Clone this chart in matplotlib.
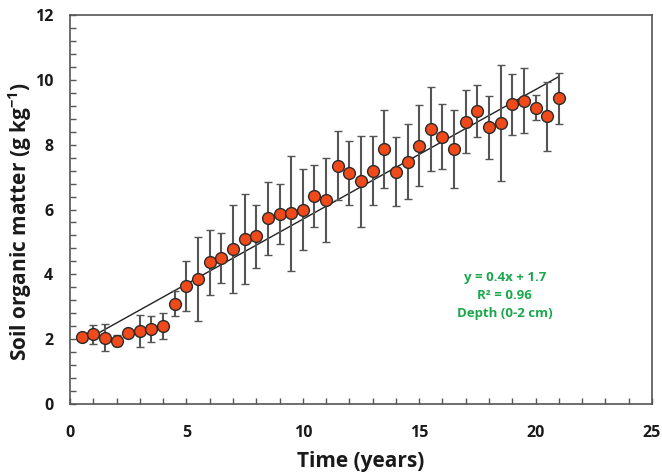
import matplotlib
matplotlib.use('Agg')
import matplotlib.pyplot as plt
import numpy as np
from matplotlib.ticker import MultipleLocator

# Soil organic matter over time, depth 0-2 cm
years = [0.5, 1, 1.5, 2, 2.5, 3, 3.5, 4, 4.5, 5, 5.5, 6, 6.5, 7, 7.5, 8, 8.5, 9, 9.5, 10, 10.5,
         11, 11.5, 12, 12.5, 13, 13.5, 14, 14.5, 15, 15.5, 16, 16.5, 17, 17.5, 18, 18.5, 19, 19.5,
         20, 20.5, 21]
som = [2.07, 2.15, 2.05, 1.95, 2.2, 2.25, 2.3, 2.4, 3.1, 3.65, 3.85, 4.37, 4.5, 4.78, 5.09, 5.17,
       5.73, 5.87, 5.88, 6.0, 6.41, 6.3, 7.35, 7.12, 6.87, 7.2, 7.87, 7.17, 7.48, 7.97, 8.49, 8.25,
       7.86, 8.71, 9.03, 8.53, 8.68, 9.25, 9.36, 9.14, 8.87, 9.43]
som_err = [0.05, 0.3, 0.43, 0.17, 0.1, 0.5, 0.4, 0.4, 0.4, 0.77, 1.3, 1.0, 0.76, 1.35, 1.4, 0.97,
           1.13, 0.93, 1.78, 1.25, 0.95, 1.3, 1.07, 0.98, 1.4, 1.06, 1.2, 1.07, 1.15, 1.25, 1.3,
           1.0, 1.2, 0.97, 0.8, 0.97, 1.79, 0.94, 1.0, 0.38, 1.06, 0.78]

slope = 0.4
intercept = 1.7
fit_range = [1, 21]

plt.rcParams['font.family'] = ['Open Sans', 'DejaVu Sans']
plt.rcParams['font.weight'] = 'bold'
plt.rcParams['mathtext.fontset'] = 'custom'
plt.rcParams['mathtext.rm'] = 'Open Sans:bold'
plt.rcParams['mathtext.bf'] = 'Open Sans:bold'

fig = plt.figure(figsize=(6.62, 4.76), dpi=100)
ax = fig.add_axes([70 / 662, 72 / 476, 582 / 662, 389 / 476])

fit_x = np.array(fit_range)
ax.plot(fit_x, slope * fit_x + intercept, color='#222222', lw=1.0, zorder=2)

ax.errorbar(years, som, yerr=som_err, fmt='o', color='#555555', ecolor='#555555',
            elinewidth=1.5, capsize=3, capthick=1.3, markersize=8.5,
            markerfacecolor='#f04a1b', markeredgecolor='#2a2a2a', markeredgewidth=1.0, zorder=3)

ax.set_xlim(0, 25)
ax.set_ylim(0, 12)
ax.xaxis.set_major_locator(MultipleLocator(5))
ax.xaxis.set_minor_locator(MultipleLocator(1))
ax.yaxis.set_major_locator(MultipleLocator(2))
ax.yaxis.set_minor_locator(MultipleLocator(0.4))
ax.tick_params(which='both', direction='in', length=4, width=1, color='#555555',
               top=False, right=False)
ax.tick_params(which='major', labelsize=11.5, labelcolor='#1a1a1a')
ax.tick_params(axis='x', which='major', pad=15)
ax.tick_params(axis='y', which='major', pad=12)
for s in ax.spines.values():
    s.set_color('#555555')
    s.set_linewidth(1.2)

ax.set_xlabel('Time (years)', fontsize=15, fontweight='bold', labelpad=7, color='#1a1a1a')
ax.set_ylabel('Soil organic matter (g kg$^{\\mathbf{-1}}$)', fontsize=15, fontweight='bold',
              color='#1a1a1a')
ax.yaxis.set_label_coords(-0.062, 0.47)

ax.text(0.747, 0.278, 'y = 0.4x + 1.7\nR² = 0.96\nDepth (0-2 cm)', transform=ax.transAxes,
        ha='center', va='center', color='#1aa84b', fontsize=9.5, fontweight='bold',
        linespacing=1.5)

fig.savefig('out.png', dpi=100)
